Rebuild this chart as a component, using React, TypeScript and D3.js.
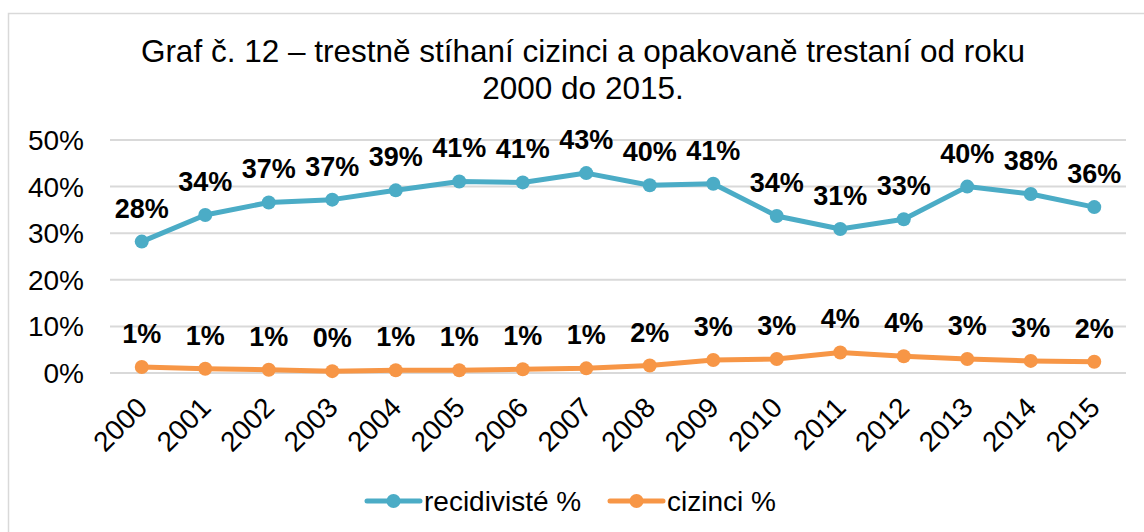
import React from "react";
import * as d3 from "d3";

const years = ["2000","2001","2002","2003","2004","2005","2006","2007","2008","2009","2010","2011","2012","2013","2014","2015"];
const recidiviste = [28.2, 33.9, 36.6, 37.2, 39.2, 41.1, 40.9, 42.9, 40.3, 40.6, 33.7, 30.9, 33.0, 40.0, 38.4, 35.6];
const cizinci = [1.3, 0.9, 0.7, 0.4, 0.6, 0.6, 0.8, 1.0, 1.6, 2.8, 3.0, 4.4, 3.6, 3.0, 2.6, 2.4];
const yTicks = [0, 10, 20, 30, 40, 50];
const titleLines = ["Graf č. 12 – trestně stíhaní cizinci a opakovaně trestaní od roku", "2000 do 2015."];
const seriesNames = ["recidivisté %", "cizinci %"];

const BLUE = "#4BACC6";
const ORANGE = "#F79646";
const FONT = "Liberation Sans, Arial, sans-serif";

export default function App() {
  const W = 1144, H = 532;
  const x = d3.scalePoint<string>().domain(years).range([110, 1126]).padding(0.5);
  const y = d3.scaleLinear().domain([0, 50]).range([373, 140]);
  const line = d3.line<number>().x((_, i) => x(years[i])!).y((d) => y(d));
  const series = [
    { name: seriesNames[0], values: recidiviste, color: BLUE },
    { name: seriesNames[1], values: cizinci, color: ORANGE },
  ];
  const legendX = [367, 610];
  return (
    <svg width={W} height={H} style={{ position: "absolute", left: 0, top: 0 }} fontFamily={FONT}>
      <rect x={0} y={0} width={W} height={H} fill="#fff" />
      <rect x={8.5} y={13.5} width={1200} height={600} fill="none" stroke="#D9D9D9" strokeWidth={1.5} />
      {titleLines.map((t, i) => (
        <text key={i} x={583} y={62 + i * 37} textAnchor="middle" fontSize={31.5} fill="#000">{t}</text>
      ))}
      {yTicks.map((t) => (
        <g key={t}>
          <line x1={110} x2={1126} y1={y(t)} y2={y(t)} stroke="#D9D9D9" strokeWidth={2} />
          <text x={84} y={y(t) + 10} textAnchor="end" fontSize={28} fill="#000">{t}%</text>
        </g>
      ))}
      {years.map((yr) => (
        <text key={yr} transform={`translate(${x(yr)! - 7},${395}) rotate(-45)`} textAnchor="end" dy="0.72em" fontSize={28} fill="#000">{yr}</text>
      ))}
      {series.map((s) => (
        <g key={s.name}>
          <path d={line(s.values)!} fill="none" stroke={s.color} strokeWidth={5} strokeLinejoin="round" />
          {s.values.map((v, i) => (
            <circle key={i} cx={x(years[i])!} cy={y(v)} r={7} fill={s.color} />
          ))}
          {s.values.map((v, i) => (
            <text key={"l" + i} x={x(years[i])!} y={y(v) - 24} textAnchor="middle" fontSize={27} fontWeight="bold" fill="#000">{Math.round(v)}%</text>
          ))}
        </g>
      ))}
      {series.map((s, i) => (
        <g key={"lg" + i}>
          <line x1={legendX[i]} x2={legendX[i] + 53} y1={501} y2={501} stroke={s.color} strokeWidth={5} strokeLinecap="round" />
          <circle cx={legendX[i] + 26.5} cy={501} r={7} fill={s.color} />
          <text x={legendX[i] + 57} y={511} fontSize={28} fill="#000">{s.name}</text>
        </g>
      ))}
    </svg>
  );
}
